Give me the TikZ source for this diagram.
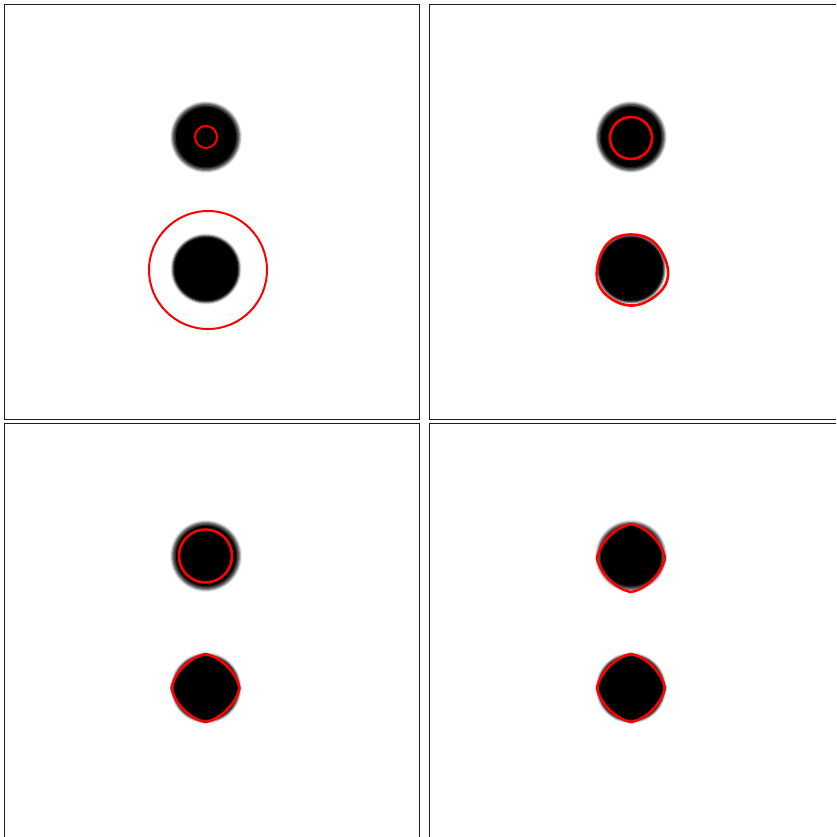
\documentclass[tikz,border=0pt]{standalone}
\usepackage{tikz}
\usepackage{xcolor}
\definecolor{contour}{RGB}{255,0,0}
\definecolor{frame}{RGB}{30,30,30}

\begin{document}
\begin{tikzpicture}[
  x=1pt, y=-1pt,
  panel/.style={draw=frame, line width=1.2pt},
  level/.style={draw=contour, line width=2pt},
  thicklevel/.style={draw=contour, line width=2.6pt, line join=round}
]
\clip (0,0) rectangle (836,837);

% --- Panel frames ---
\draw[panel] (4.5,4.5) rectangle (419.5,419.5);
\draw[panel] (429.5,4.5) rectangle (844.5,419.5);
\draw[panel] (4.5,423.5) rectangle (419.5,838.5);
\draw[panel] (429.5,423.5) rectangle (844.5,838.5);

% --- Blurred discs (rings from outside in) ---
\foreach \px/\py in {0/0, 425/0, 0/419, 425/419} {
  \foreach \r/\k in {36/8, 35/25, 34/45, 33/65, 31.5/85, 30/100}
    \fill[black!\k] (206+\px,137+\py) circle (\r);
  \foreach \r/\k in {35.5/10, 34.5/35, 33.5/65, 32.5/88, 31.5/100}
    \fill[black!\k] (206+\px,269+\py) circle (\r);
}

% --- Contours, top left ---
\draw[level] (206,137) circle (11);
\draw[level] (208,270) circle (59);

% --- Contours, top right ---
\draw[thicklevel] (631,138) circle (21);
\draw[thicklevel] plot[domain=0:360, samples=121, variable=\a]
  ({632+(35.5+0.6*sin(3*\a+40)+0.5*sin(5*\a+10))*cos(\a)}, {270+(35.5+0.6*sin(3*\a+40)+0.5*sin(5*\a+10))*sin(\a)}) -- cycle;

% --- Contours, bottom left ---
\draw[thicklevel] (205.5,556) circle (26.5);
\draw[thicklevel] plot[domain=0:360, samples=145, variable=\a]
  ({205.5+34*(1-0.1*abs(sin(2*\a)))*cos(\a)}, {688+34*(1-0.1*abs(sin(2*\a)))*sin(\a)}) -- cycle;

% --- Contours, bottom right ---
\draw[thicklevel] plot[domain=0:360, samples=145, variable=\a]
  ({631+34*(1-0.1*abs(sin(2*\a)))*cos(\a)}, {558+34*(1-0.1*abs(sin(2*\a)))*sin(\a)}) -- cycle;
\draw[thicklevel] plot[domain=0:360, samples=145, variable=\a]
  ({631+34*(1-0.1*abs(sin(2*\a)))*cos(\a)}, {688+34*(1-0.1*abs(sin(2*\a)))*sin(\a)}) -- cycle;

\end{tikzpicture}
\end{document}
